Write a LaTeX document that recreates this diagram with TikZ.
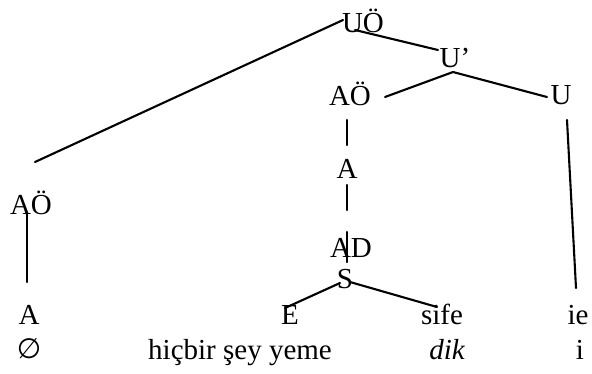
\documentclass[tikz,border=0pt]{standalone}
\usepackage{fontspec}
\setmainfont{Liberation Serif}
\newfontfamily\symfont{DejaVu Sans}
\begin{document}
\begin{tikzpicture}[x=1pt,y=-1pt,
  lbl/.style={inner sep=0pt,anchor=base,font=\fontsize{29}{33}\selectfont},
  edge/.style={line width=2.1pt,line cap=round}]
\useasboundingbox (0,0) rectangle (592,373);
% labels
\node[lbl] (UO) at (363,32) {UÖ};
\node[lbl] (Up) at (455,67) {U’};
\node[lbl] (AOm) at (350,105) {AÖ};
\node[lbl] (U) at (561,104) {U};
\node[lbl] (Am) at (347,178) {A};
\node[lbl] (AOl) at (31,214) {AÖ};
\node[lbl] (AD) at (351,257) {AD};
\node[lbl] (S) at (345,288) {S};
\node[lbl] (Ab) at (29,324) {A};
\node[lbl] (E) at (290,324) {E};
\node[lbl] (sife) at (442,324) {sife};
\node[lbl] (ie) at (578,324) {ie};
\node[lbl] (empty) at (29,358) {{\symfont\fontsize{28}{32}\selectfont ∅}};
\node[lbl,anchor=base west] (hicbir) at (148,359) {hiçbir şey yeme};
\node[lbl] (dik) at (447,359) {\itshape dik};
\node[lbl] (i) at (580,359) {i};
% connector ends
\coordinate (UOl) at (343,20);
\coordinate (UOr) at (355,30);
\coordinate (AOlt) at (35,162);
\coordinate (Upl) at (438,50);
\coordinate (Upb) at (453,72);
\coordinate (AOmr) at (385,97);
\coordinate (Ul) at (547,97);
\coordinate (AOmb) at (347,120);
\coordinate (Amt) at (347,145);
\coordinate (Amb) at (347,185);
\coordinate (ADt) at (347,210);
\coordinate (ADb) at (347,232);
\coordinate (St) at (347,262);
\coordinate (Sl) at (340,283);
\coordinate (Et) at (285,308);
\coordinate (Sr) at (350,282);
\coordinate (sifet) at (437,307);
\coordinate (Ub) at (567,120);
\coordinate (iet) at (576,288);
\coordinate (AOlb) at (27,213);
\coordinate (Abt) at (27,282);
% connectors
\draw[edge] (AOlt) -- (UOl);
\draw[edge] (UOr) -- (Upl);
\draw[edge] (Upb) -- (AOmr);
\draw[edge] (Upb) -- (Ul);
\draw[edge] (AOmb) -- (Amt);
\draw[edge] (Amb) -- (ADt);
\draw[edge] (ADb) -- (St);
\draw[edge] (Sl) -- (Et);
\draw[edge] (Sr) -- (sifet);
\draw[edge] (Ub) -- (iet);
\draw[edge] (AOlb) -- (Abt);
\end{tikzpicture}
\end{document}
